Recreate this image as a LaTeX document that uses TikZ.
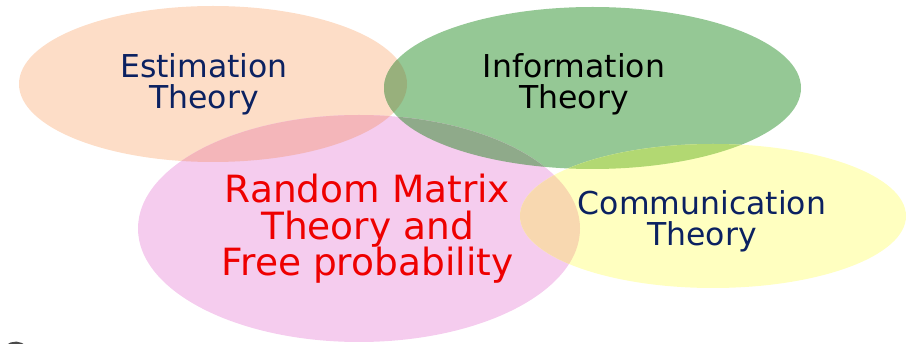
\documentclass[tikz,border=0pt]{standalone}
\usepackage{fontspec}
\setmainfont{DejaVu Sans}
\definecolor{cEst}{HTML}{FDDDC7}
\definecolor{cInf}{HTML}{95C895}
\definecolor{cRmt}{HTML}{F5CCEE}
\definecolor{cCom}{HTML}{FFFFC0}
\definecolor{cER}{HTML}{F4B6BA}
\definecolor{cEI}{HTML}{98B07C}
\definecolor{cRI}{HTML}{8FAA8A}
\definecolor{cRC}{HTML}{F8D8B0}
\definecolor{cIC}{HTML}{B2D872}
\definecolor{navy}{HTML}{0B2161}
\definecolor{rmtred}{HTML}{EE0000}
\definecolor{frag}{HTML}{4A4A4A}
\tikzset{
  bluetext/.style={text=navy, align=center, inner sep=0pt, font=\fontsize{31.5}{31}\selectfont},
  blacktext/.style={text=black, align=center, inner sep=0pt, font=\fontsize{31.5}{31}\selectfont},
  redtext/.style={text=rmtred, align=center, inner sep=0pt, font=\fontsize{37.5}{36.5}\selectfont},
}
\begin{document}
\begin{tikzpicture}[x=1pt,y=-1pt]
\useasboundingbox (0,0) rectangle (907,344);
\clip (0,0) rectangle (907,344);
% base fills
\fill[cEst] (213,84) ellipse [x radius=194pt, y radius=78pt];
\fill[cInf] (592.5,88) ellipse [x radius=208.5pt, y radius=81pt];
\fill[cRmt] (359,228.5) ellipse [x radius=221pt, y radius=113.5pt];
\fill[cCom] (713,216) ellipse [x radius=193pt, y radius=72pt];
% overlaps
\begin{scope}
  \clip (213,84) ellipse [x radius=194pt, y radius=78pt];
  \fill[cER] (359,228.5) ellipse [x radius=221pt, y radius=113.5pt];
\end{scope}
\begin{scope}
  \clip (213,84) ellipse [x radius=194pt, y radius=78pt];
  \fill[cEI] (592.5,88) ellipse [x radius=208.5pt, y radius=81pt];
\end{scope}
\begin{scope}
  \clip (359,228.5) ellipse [x radius=221pt, y radius=113.5pt];
  \fill[cRI] (592.5,88) ellipse [x radius=208.5pt, y radius=81pt];
\end{scope}
\begin{scope}
  \clip (359,228.5) ellipse [x radius=221pt, y radius=113.5pt];
  \fill[cRC] (713,216) ellipse [x radius=193pt, y radius=72pt];
\end{scope}
\begin{scope}
  \clip (592.5,88) ellipse [x radius=208.5pt, y radius=81pt];
  \fill[cIC] (713,216) ellipse [x radius=193pt, y radius=72pt];
\end{scope}
% labels
\node[bluetext] (est) at (204,84) {Estimation\\Theory};
\node[blacktext] (inf) at (574,84) {Information\\Theory};
\node[redtext] (rmt) at (367.5,229) {Random Matrix\\Theory and\\Free probability};
\node[bluetext] (com) at (702,221) {Communication\\Theory};
% cut-off glyph fragment at bottom left
\draw[frag, line width=5pt] (27,352) arc[start angle=20, end angle=170, radius=12pt];
\end{tikzpicture}
\end{document}
